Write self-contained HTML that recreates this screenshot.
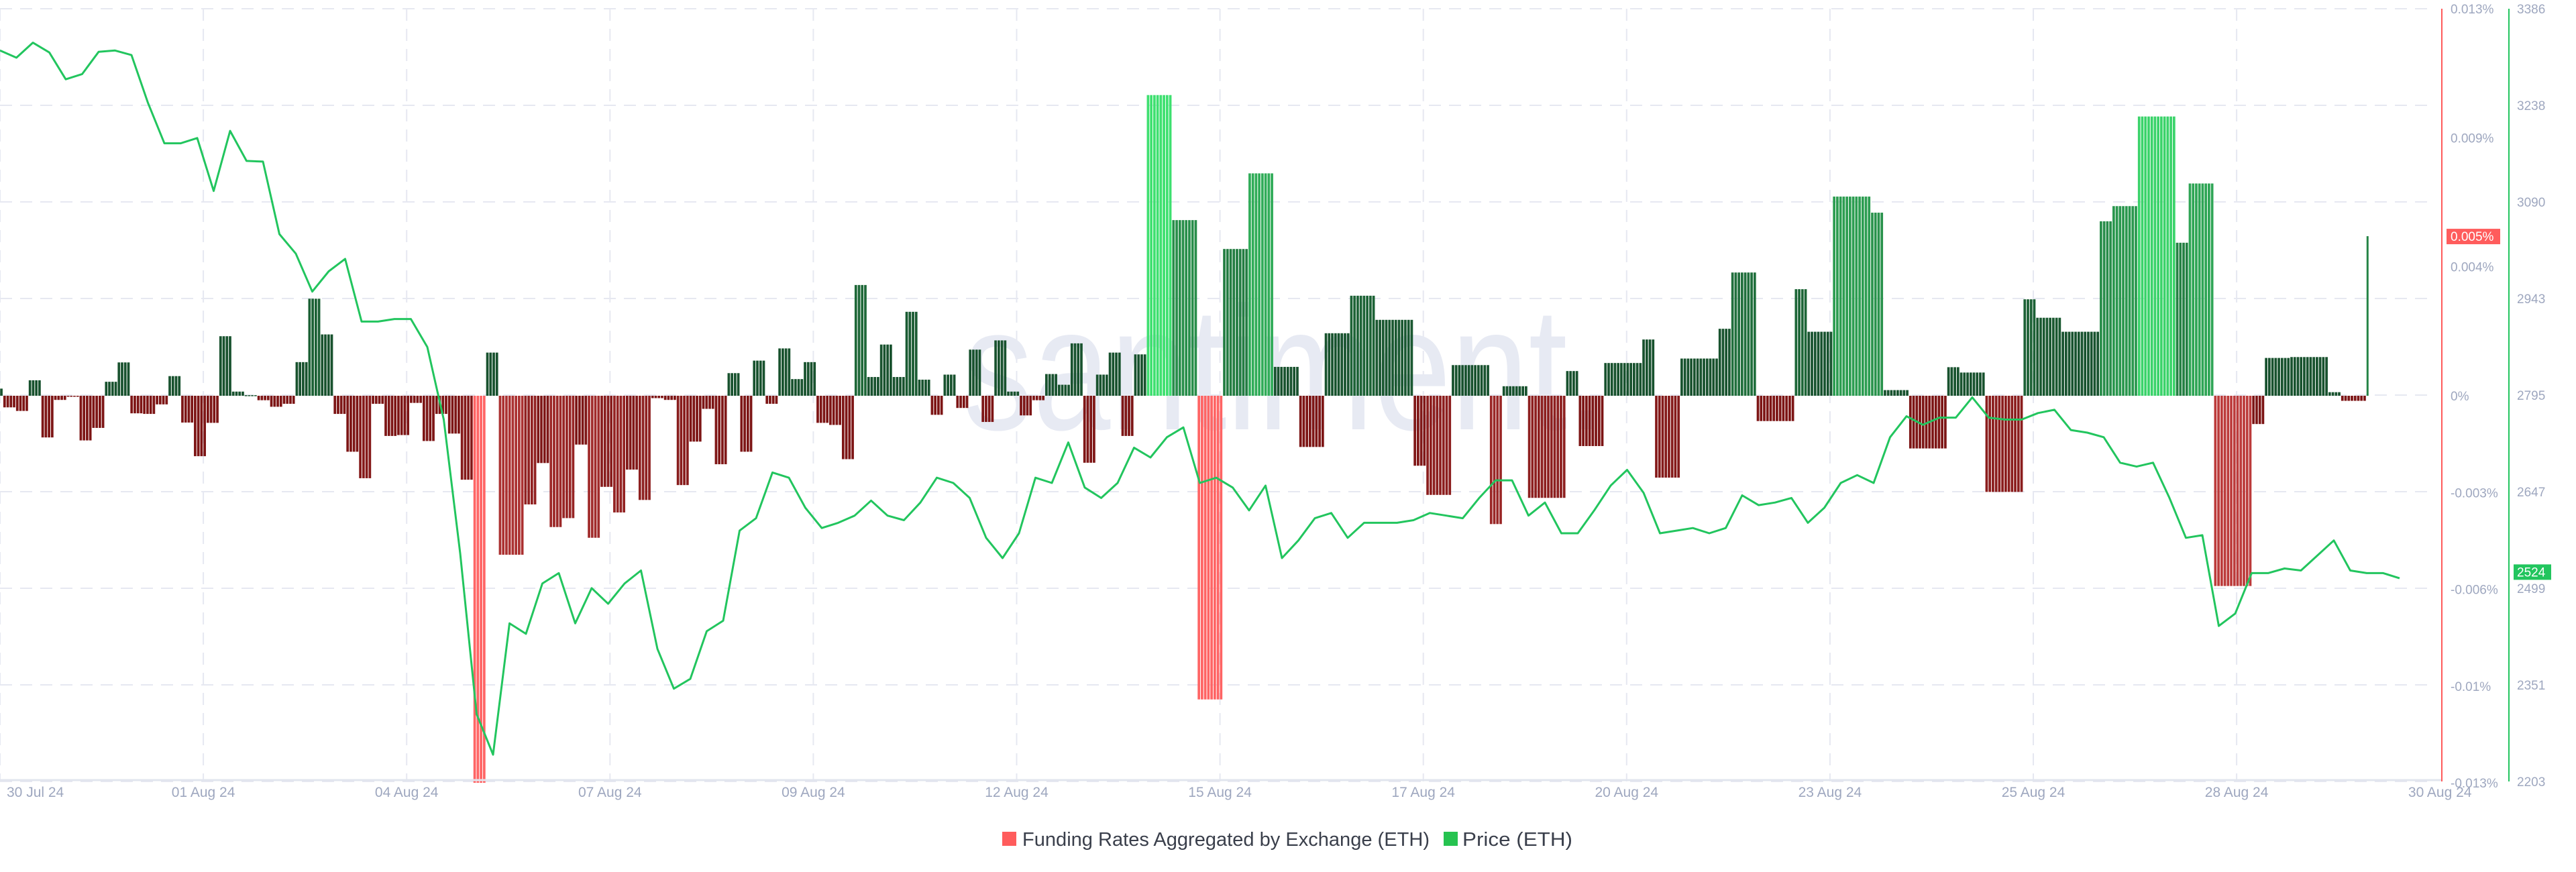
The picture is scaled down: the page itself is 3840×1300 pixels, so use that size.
<!DOCTYPE html>
<html><head><meta charset="utf-8"><style>
html,body{margin:0;padding:0;background:#fff;}
svg{display:block;font-family:"Liberation Sans",sans-serif;}
</style></head><body>
<svg id="chart" width="3840" height="1300" viewBox="0 0 3840 1300">
<g id="grid"></g>
<text x="1436" y="640" font-size="262" textLength="958" lengthAdjust="spacingAndGlyphs" fill="#e7eaf3">santiment.</text>
<g id="bars"></g>
<g id="line"></g>
<g id="axes"></g>
<g>
<g><rect x="1494" y="1240" width="21" height="21" fill="#ff5c5c"/><text x="1524" y="1261" font-size="29" textLength="607" lengthAdjust="spacingAndGlyphs" fill="#3a3f4b">Funding Rates Aggregated by Exchange (ETH)</text></g>
<g><rect x="2152" y="1240" width="21" height="21" fill="#26c350"/><text x="2180" y="1261" font-size="29" textLength="164" lengthAdjust="spacingAndGlyphs" fill="#3a3f4b">Price (ETH)</text></g>
</g>
</svg>
<script>
// Funding rate values in units of 0.001%
const barValues = [0.24,-0.39,-0.51,0.52,-1.40,-0.14,-0.02,-1.50,-1.08,0.47,1.12,-0.59,-0.61,-0.29,0.66,-0.90,-2.03,-0.91,2.00,0.14,0.02,-0.15,-0.37,-0.27,1.13,3.26,2.06,-0.61,-1.88,-2.77,-0.27,-1.35,-1.32,-0.24,-1.52,-0.61,-1.27,-2.82,-13,1.45,-5.34,-5.34,-3.65,-2.26,-4.41,-4.11,-1.64,-4.77,-3.06,-3.92,-2.48,-3.50,-0.08,-0.14,-3.0,-1.54,-0.44,-2.30,0.76,-1.88,1.18,-0.27,1.59,0.56,1.13,-0.91,-0.98,-2.13,3.72,0.63,1.72,0.63,2.82,0.54,-0.64,0.71,-0.41,1.55,-0.88,1.86,0.14,-0.66,-0.15,0.73,0.37,1.76,-2.25,0.71,1.45,-1.35,1.39,10.1,10.1,5.9,5.9,-10.2,-10.2,4.93,4.93,7.47,7.47,0.97,0.97,-1.72,-1.72,2.10,2.10,3.36,3.36,2.55,2.55,2.55,-2.35,-3.33,-3.33,1.03,1.03,1.03,-4.31,0.32,0.32,-3.43,-3.43,-3.43,0.83,-1.69,-1.69,1.10,1.10,1.10,1.89,-2.75,-2.75,1.25,1.25,1.25,2.25,4.14,4.14,-0.85,-0.85,-0.85,3.58,2.15,2.15,6.69,6.69,6.69,6.15,0.19,0.19,-1.77,-1.77,-1.77,0.96,0.78,0.78,-3.23,-3.23,-3.23,3.24,2.62,2.62,2.15,2.15,2.15,5.86,6.37,6.37,9.38,9.38,9.38,5.14,7.13,7.13,-6.39,-6.39,-6.39,-0.95,1.27,1.27,1.30,1.30,1.30,0.12,-0.17,-0.17,5.36];
const priceValues = [3322,3311,3334,3319,3278,3286,3320,3322,3315,3242,3180,3180,3188,3107,3199,3153,3152,3041,3011,2953,2984,3003,2907,2907,2911,2911,2868,2757,2552,2306,2244,2445,2429,2506,2522,2445,2499,2475,2506,
2526,2406,2345,2360,2433,2449,2587,2606,2676,2668,2622,2591,2599,2610,2633,2610,2603,2630,2668,2660,2637,2576,2545,2583,2668,2660,2722,2653,2637,2660,2714,2699,2730,2745,2660,2668,2653,2618,
2656,2545,2572,2606,2614,2576,2599,2599,2599,2603,2614,2610,2606,2637,2664,2664,2610,2630,2583,2583,2618,2656,2680,2645,2583,2587,2591,2583,2591,2641,2626,2630,2637,2599,2622,2660,2672,2660,2730,
2762,2749,2760,2760,2791,2760,2757,2757,2767,2772,2741,2737,2730,2691,2685,2691,2637,2576,2580,2441,2460,2522,2522,2529,2526,2549,2572,2526,2522,2522,2514];
const dateLabels = ["30 Jul 24","01 Aug 24","04 Aug 24","07 Aug 24","09 Aug 24","12 Aug 24","15 Aug 24","17 Aug 24","20 Aug 24","23 Aug 24","25 Aug 24","28 Aug 24","30 Aug 24"];
const rateTickLabels = ["0.013%","0.009%","0.004%","0%","-0.003%","-0.006%","-0.01%","-0.013%"];
const rateTickValues = [13,8.667,4.333,0,-3.25,-6.5,-9.75,-13];
const priceTickLabels = ["3386","3238","3090","2943","2795","2647","2499","2351","2203"];
const lastRate = 5.36, lastPrice = 2524;

const NS="http://www.w3.org/2000/svg";
const TOP=13, BOT=1165, ZERO=590;
const PMIN=2203, PMAX=3386;
function yRate(v){return ZERO - v/13*577;}
function yPrice(p){return BOT - (p-PMIN)/(PMAX-PMIN)*(BOT-TOP);}
const BAR_W=18.94, BAR_X0=-14;
function xBar(i){return BAR_X0 + i*BAR_W;}
const PRICE_STEP=24.5;
function xPrice(k){return k*PRICE_STEP;}
const DATE_STEP=303.1;
function xDate(i){return i*DATE_STEP;}
function mk(tag,attrs,parent){const e=document.createElementNS(NS,tag);for(const k in attrs)e.setAttribute(k,attrs[k]);parent.appendChild(e);return e;}
function mix(a,b,t){return 'rgb('+a.map((c,i)=>Math.round(c+(b[i]-c)*t)).join(',')+')';}

const grid=document.getElementById('grid');
for(let i=0;i<=8;i++){
  const y=TOP+i*(BOT-TOP)/8;
  const l=mk('line',{x1:0,x2:3625,y1:y,y2:y,stroke:'#e6e8f1','stroke-width':2,'stroke-dasharray':'18 12'},grid);
  
  
}
for(let i=0;i<12;i++){
  const x=xDate(i);
  const l=mk('line',{x1:x,x2:x,y1:TOP,y2:BOT,stroke:'#e6e8f1','stroke-width':2,'stroke-dasharray':'18 12'},grid);
  
  
}

const bars=document.getElementById('bars');
const RD=[125,21,21],RB=[255,100,100],GD=[24,82,46],GB=[62,224,112];
barValues.forEach((v,i)=>{
  const x=xBar(i), y0=yRate(0), y1=yRate(Math.max(-13,Math.min(13,v)));
  const t=Math.pow(Math.min(1,Math.max(0,(Math.abs(v)-2)/8)),1.2);
  const col=v<0?mix(RD,RB,t):mix(GD,GB,t);
  const w=(i===barValues.length-1)?3:BAR_W;
  const g=mk('g',{},bars);
  
  
  const n=w>5?4:1, sw=w/n;
  for(let s=0;s<n;s++){
    mk('rect',{x:x+s*sw,y:Math.min(y0,y1),width:Math.max(1,sw-(n>1?1:0)),height:Math.max(1.5,Math.abs(y1-y0)),fill:col},g);
  }
});

const line=document.getElementById('line');
const pts=priceValues.map((p,k)=>xPrice(k).toFixed(1)+','+yPrice(p).toFixed(1)).join(' ');
const pl=mk('polyline',{points:pts,fill:'none',stroke:'#22c55e','stroke-width':3,'stroke-linejoin':'round'},line);



const axes=document.getElementById('axes');
const xa=mk('line',{x1:0,x2:3640,y1:1163,y2:1163,stroke:'#e1e5ee','stroke-width':3},axes);


dateLabels.forEach((d,i)=>{
  let x=xDate(i), anchor='middle';
  if(i===0){x=10;anchor='start';}
  const t=mk('text',{x:x,y:1188,'font-size':21,fill:'#9ea7bf','text-anchor':anchor},axes);
  t.textContent=d;
  
  
});
const ra=mk('line',{x1:3640,x2:3640,y1:TOP,y2:BOT,stroke:'#ff5a5a','stroke-width':2},axes);


const ga=mk('line',{x1:3740,x2:3740,y1:TOP,y2:BOT,stroke:'#22c55e','stroke-width':2},axes);


rateTickLabels.forEach((s,i)=>{
  const t=mk('text',{x:3653,y:yRate(rateTickValues[i])+7,'font-size':19,fill:'#9ea7bf'},axes);
  t.textContent=s;
  
  
});
priceTickLabels.forEach((s,i)=>{
  const t=mk('text',{x:3752,y:TOP+i*(BOT-TOP)/8+7,'font-size':19,fill:'#9ea7bf'},axes);
  t.textContent=s;
  
  
});
const ry=yRate(lastRate);
const rb=mk('rect',{x:3647,y:ry-11,width:80,height:23,fill:'#ff5c5c'},axes);


const rt=mk('text',{x:3653,y:ry+7,'font-size':19,fill:'#fff'},axes);
rt.textContent=lastRate>=0?'0.005%':'-0.005%';


const py=yPrice(lastPrice);
const pb=mk('rect',{x:3747,y:py-11,width:56,height:23,fill:'#22c55e'},axes);


const pt=mk('text',{x:3752,y:py+7,'font-size':19,fill:'#fff'},axes);
pt.textContent=String(lastPrice);


</script>
</body></html>
